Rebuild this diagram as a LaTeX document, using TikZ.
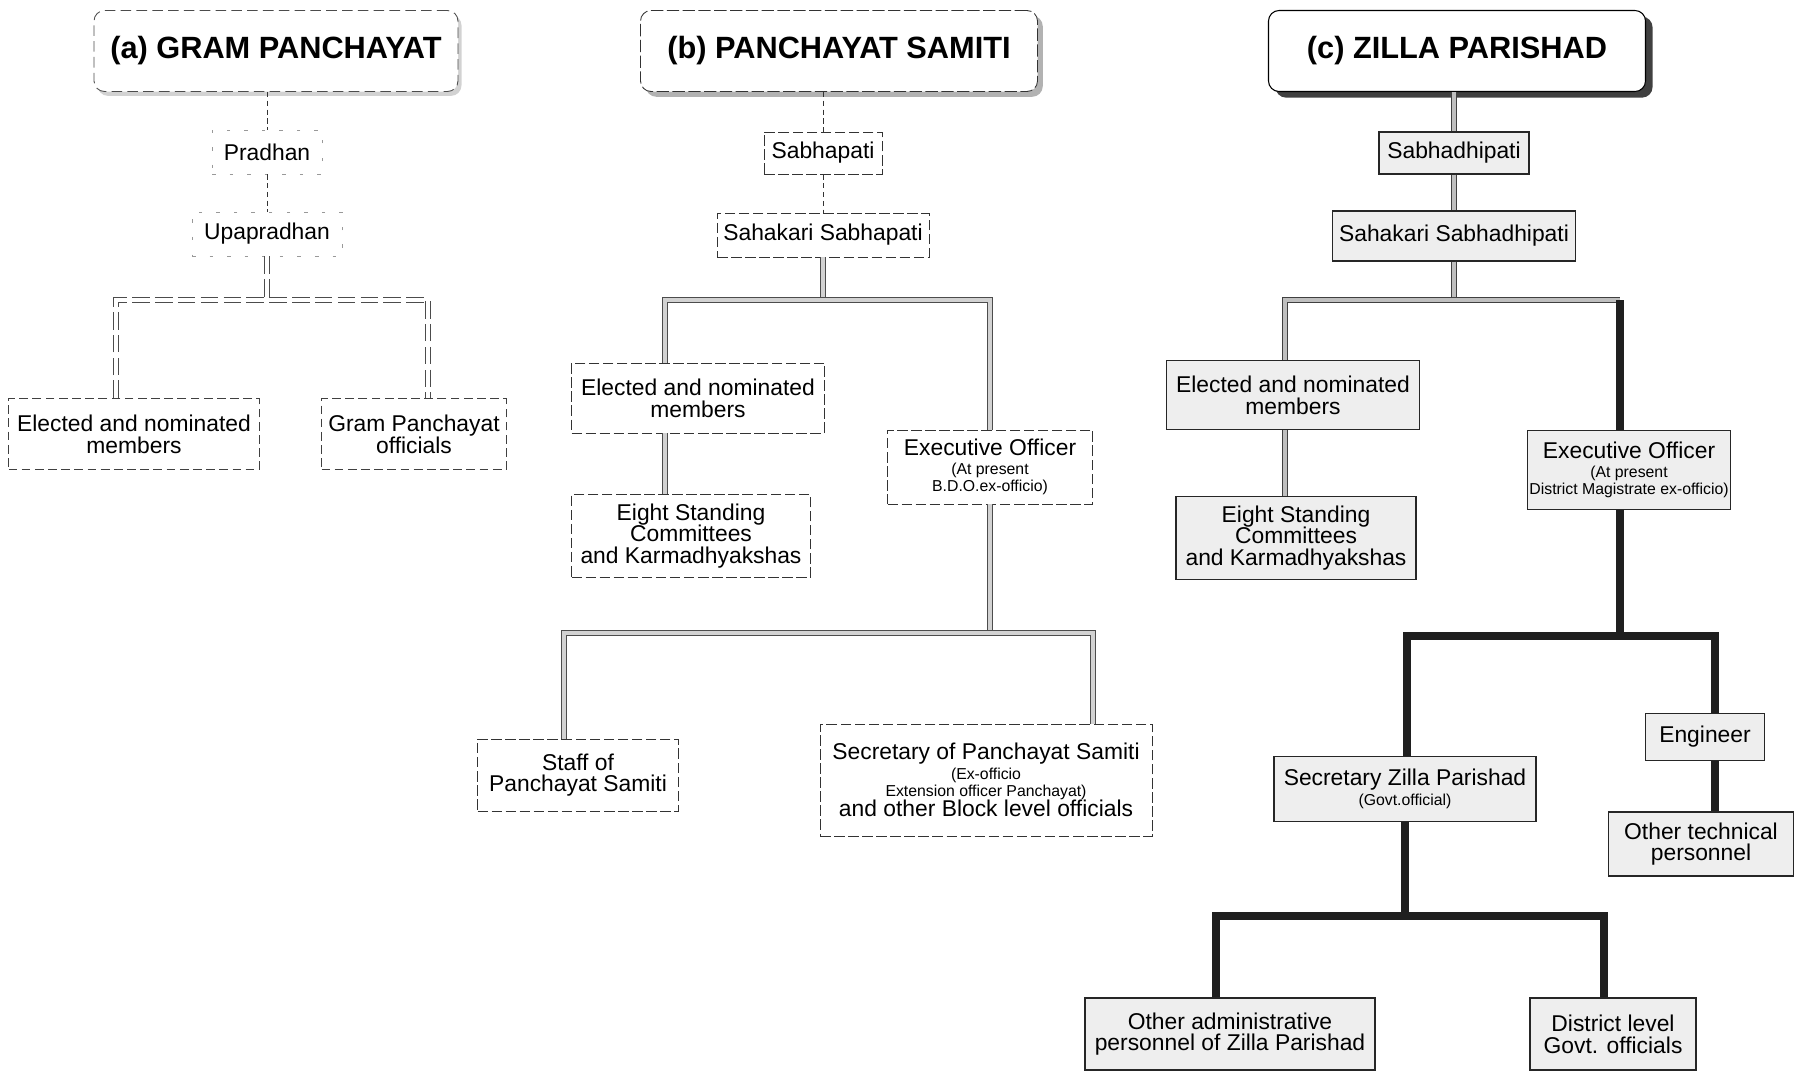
\documentclass[tikz,border=0pt]{standalone}
\usepackage{fontspec}
\setmainfont{Liberation Sans}
\usetikzlibrary{shadows}

\newcommand{\sm}{\fontsize{9}{10}\selectfont}

\tikzset{
  unitbox/.style 2 args={minimum width=#1*0.02cm, minimum height=#2*0.02cm},
  orgbox/.style={align=center, inner sep=1pt, font=\fontsize{13}{12.4}\selectfont},
  gpbox/.style={orgbox, draw=black!75, line width=0.5pt, dash pattern=on 5pt off 2.5pt},
  faintbox/.style={orgbox, draw=black!40, line width=0.4pt, dash pattern=on 2pt off 8pt},
  psbox/.style={orgbox, draw=black!80, line width=0.5pt, dash pattern=on 6pt off 2pt},
  zpbox/.style={orgbox, draw=black!85, line width=0.6pt, fill=gray!13},
  titlebox/.style={align=center, inner sep=0pt, rounded corners=6pt, fill=white,
    font=\fontsize{17.5}{20}\selectfont\bfseries},
  gptitle/.style={titlebox, draw=black!70, line width=0.5pt, dash pattern=on 6pt off 3pt,
    drop shadow={opacity=1, fill=gray!35, shadow xshift=2pt, shadow yshift=-2.5pt}},
  pstitle/.style={titlebox, draw=black!80, line width=0.5pt, dash pattern=on 7pt off 2pt,
    drop shadow={opacity=1, fill=gray!60, shadow xshift=3pt, shadow yshift=-3pt}},
  zptitle/.style={titlebox, draw=black, line width=0.6pt,
    drop shadow={opacity=1, fill=black!75, shadow xshift=4pt, shadow yshift=-3.5pt}},
  gplink/.style={draw=black!80, line width=0.5pt, dash pattern=on 3pt off 2pt},
  gpband/.style={draw=black!70, line width=0.5pt, double=white, double distance=2pt,
    dash pattern=on 10pt off 3pt},
  psband/.style={draw=black!70, line width=0.6pt, double=gray!35, double distance=2.4pt},
  zpband/.style={draw=black!75, line width=0.7pt, double=gray!50, double distance=2.5pt},
  zpthick/.style={draw=black!88, line width=5pt}
}

\begin{document}
\begin{tikzpicture}[x=0.02cm, y=-0.02cm]
  \useasboundingbox (0,0) rectangle (1796,1072);

  % (a) Gram Panchayat
  \node[gptitle, unitbox={364}{81}] (gptop) at (276,51) {(a) GRAM PANCHAYAT};
  \node[faintbox, unitbox={110}{44}] (pradhan) at (267,152) {Pradhan};
  \node[faintbox, unitbox={150}{44}] (upapradhan) at (267,234) {Upapradhan};
  \node[gpbox, unitbox={251}{71}] (gpmembers) at (134,434) {Elected and nominated\\members};
  \node[gpbox, unitbox={185}{71}] (gpofficials) at (414,434) {Gram Panchayat\\officials};

  \coordinate (gpL) at (116,300);
  \coordinate (gpR) at (428,300);
  \draw[gplink] (gptop.south -| pradhan) -- (pradhan);
  \draw[gplink] (pradhan) -- (upapradhan);
  \draw[gpband] (upapradhan) -- (upapradhan |- gpL);
  \draw[gpband] (gpL |- gpmembers.north) -- (gpL) -- (gpR) -- (gpR |- gpofficials.north);

  % (b) Panchayat Samiti
  \node[pstitle, unitbox={397}{81}] (pstop) at (839,51) {(b) PANCHAYAT SAMITI};
  \node[psbox, unitbox={118}{42}] (sabhapati) at (823,153) {Sabhapati};
  \node[psbox, unitbox={212}{44}] (pssahakari) at (823,235) {Sahakari Sabhapati};
  \node[psbox, unitbox={253}{70}] (psmembers) at (698,398) {Elected and nominated\\members};
  \node[psbox, unitbox={239}{83}] (pscommittees) at (691,536) {Eight Standing\\Committees\\and Karmadhyakshas};
  \node[psbox, unitbox={205}{74}] (pseo) at (990,467)
    {Executive Officer\\[-2pt]{\sm (At present}\\[-2.5pt]{\sm B.D.O.ex-officio)}};
  \node[psbox, unitbox={201}{72}] (psstaff) at (578,775) {Staff of\\Panchayat Samiti};
  \node[psbox, unitbox={332}{112}] (pssecretary) at (986,780)
    {Secretary of Panchayat Samiti\\[-1pt]{\sm (Ex-officio}\\[-2.5pt]{\sm Extension officer Panchayat)}\\[-1pt]and other Block level officials};

  \coordinate (psL) at (665,300);
  \coordinate (psR) at (990,300);
  \coordinate (psL2) at (564,633);
  \coordinate (psR2) at (1093,633);
  \draw[gplink] (pstop.south -| sabhapati) -- (sabhapati);
  \draw[gplink] (sabhapati) -- (pssahakari);
  \draw[psband] (pssahakari) -- (pssahakari |- psL);
  \draw[psband] (psL |- psmembers.north) -- (psL) -- (psR) -- (psR |- pseo.north);
  \draw[psband] (psL |- psmembers.south) -- (psL |- pscommittees.north);
  \draw[psband] (pseo) -- (pseo |- psL2);
  \draw[psband] (psL2 |- psstaff.north) -- (psL2) -- (psR2) -- (psR2 |- pssecretary.north);

  % (c) Zilla Parishad
  \node[zptitle, unitbox={377}{81}] (zptop) at (1457,51) {(c) ZILLA PARISHAD};
  \node[zpbox, unitbox={150}{42}] (sabhadhipati) at (1454,153) {Sabhadhipati};
  \node[zpbox, unitbox={243}{50}] (zpsahakari) at (1454,236) {Sahakari Sabhadhipati};
  \node[zpbox, unitbox={253}{69}] (zpmembers) at (1293,395) {Elected and nominated\\members};
  \node[zpbox, unitbox={240}{83}] (zpcommittees) at (1296,538) {Eight Standing\\Committees\\and Karmadhyakshas};
  \node[zpbox, unitbox={188}{79}] (zpeo) at (1629,470)
    {Executive Officer\\[-2pt]{\sm (At present}\\[-2.5pt]{\sm District Magistrate ex-officio)}};
  \node[zpbox, unitbox={262}{65}] (zpsecretary) at (1405,789) {Secretary Zilla Parishad\\[-1pt]{\sm (Govt.official)}};
  \node[zpbox, unitbox={119}{47}] (engineer) at (1705,737) {Engineer};
  \node[zpbox, unitbox={185}{64}] (technical) at (1701,844) {Other technical\\personnel};
  \node[zpbox, unitbox={290}{72}] (zpadmin) at (1230,1034) {Other administrative\\personnel of Zilla Parishad};
  \node[zpbox, unitbox={166}{72}] (district) at (1613,1034) {District level\\Govt. officials};

  \coordinate (zpL) at (1285,300);
  \coordinate (zpR) at (1620,300);
  \coordinate (zpL2) at (1407,636);
  \coordinate (zpR2) at (1715,636);
  \coordinate (zpL3) at (1216,916);
  \coordinate (zpR3) at (1604,916);
  \draw[zpband] (zptop.south -| sabhadhipati) -- (sabhadhipati);
  \draw[zpband] (sabhadhipati) -- (zpsahakari);
  \draw[zpband] (zpsahakari) -- (zpsahakari |- zpL);
  \draw[zpband] (zpL |- zpmembers.north) -- (zpL) -- (zpR);
  \draw[zpband] (zpL |- zpmembers.south) -- (zpL |- zpcommittees.north);
  \draw[zpthick] (zpR) -- (zpR |- zpeo.north);
  \draw[zpthick] (zpR |- zpeo.south) -- (zpR |- zpL2);
  \draw[zpthick] (zpL2 |- zpsecretary.north) -- (zpL2) -- (zpR2) -- (zpR2 |- engineer.north);
  \draw[zpthick] (zpR2 |- engineer.south) -- (zpR2 |- technical.north);
  \draw[zpthick] (zpsecretary) -- (zpsecretary |- zpL3);
  \draw[zpthick] (zpL3 |- zpadmin.north) -- (zpL3) -- (zpR3) -- (zpR3 |- district.north);
\end{tikzpicture}
\end{document}
